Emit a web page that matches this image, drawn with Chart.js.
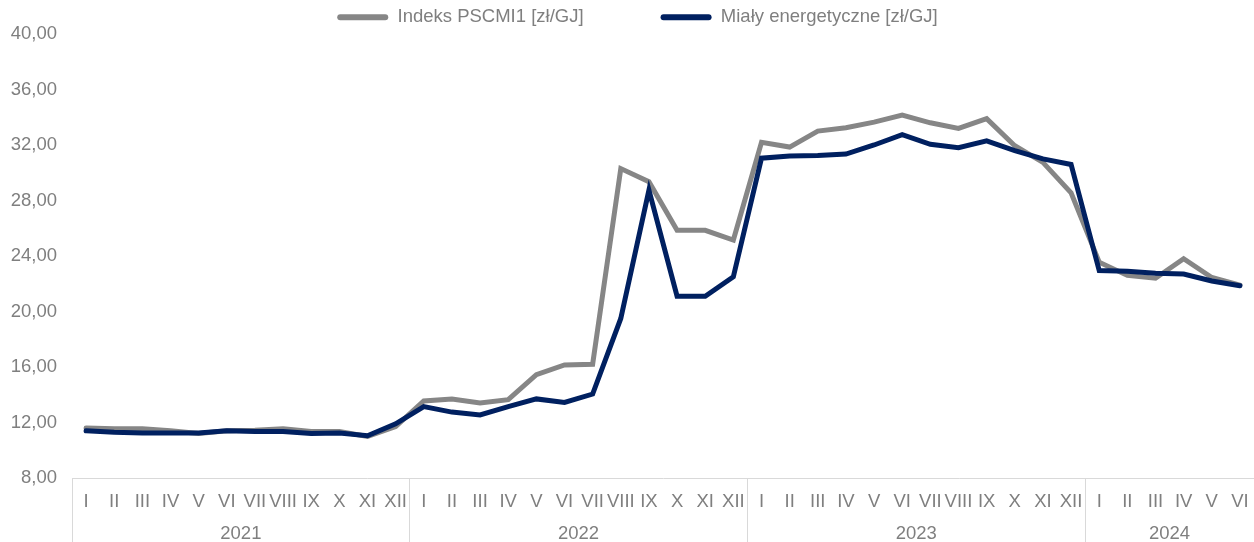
<!DOCTYPE html>
<html>
<head>
<meta charset="utf-8">
<script src="https://cdn.jsdelivr.net/npm/chart.js@4/dist/chart.umd.min.js"></script>
<style>
  html, body { margin: 0; padding: 0; background: #ffffff; }
  #wrap { position: relative; width: 1254px; height: 542px; }
</style>
</head>
<body>
<div id="wrap"><canvas id="c"></canvas></div>
<script>
// ---- data ----
const months = [
  'I','II','III','IV','V','VI','VII','VIII','IX','X','XI','XII',
  'I','II','III','IV','V','VI','VII','VIII','IX','X','XI','XII',
  'I','II','III','IV','V','VI','VII','VIII','IX','X','XI','XII',
  'I','II','III','IV','V','VI'
];
const yearLabels = ['2021', '2022', '2023', '2024'];
const yearCenters = [5.5, 17.5, 29.5, 38.5];
const yearStarts = [0, 12, 24, 36];

const seriesNames = ['Indeks PSCMI1 [zł/GJ]', 'Miały energetyczne [zł/GJ]'];
const pscmi = [
  11.6, 11.55, 11.55, 11.4, 11.2, 11.4, 11.45, 11.55, 11.35, 11.35, 11.0, 11.7,
  13.55, 13.7, 13.4, 13.65, 15.45, 16.15, 16.2, 30.3, 29.35, 25.85, 25.85, 25.15,
  32.2, 31.85, 33.0, 33.25, 33.65, 34.15, 33.6, 33.2, 33.9, 31.95, 30.75, 28.55,
  23.55, 22.6, 22.4, 23.8, 22.45, 21.9
];
const mialy = [
  11.4, 11.3, 11.25, 11.25, 11.25, 11.4, 11.35, 11.35, 11.2, 11.25, 11.05, 11.9,
  13.15, 12.75, 12.55, 13.15, 13.7, 13.45, 14.05, 19.5, 28.75, 21.1, 21.1, 22.5,
  31.05, 31.2, 31.25, 31.35, 32.0, 32.75, 32.05, 31.8, 32.3, 31.6, 31.0, 30.6,
  22.95, 22.9, 22.75, 22.7, 22.2, 21.85
];
const yTicks = { min: 8, max: 40, step: 4 };

// ---- styles ----
const GREY_LINE = '#868686';
const NAVY = '#002060';
const TEXT = '#7f7f7f';
const AXIS = '#d9d9d9';
const FONT = { family: "'Liberation Sans', Arial, sans-serif", size: 18.5 };

const LEG_PAD = 77;

// shifts the centred legend slightly to the right, as in the original
const legendShift = {
  id: 'legendShift',
  afterLayout(chart) { if (chart.legend) { chart.legend.left += 21; } }
};

new Chart(document.getElementById('c'), {
  type: 'line',
  data: {
    labels: months,
    datasets: [
      {
        label: seriesNames[0], data: pscmi,
        borderColor: GREY_LINE, backgroundColor: GREY_LINE,
        borderWidth: 5, pointRadius: 0, tension: 0,
        borderCapStyle: 'round', order: 1
      },
      {
        label: seriesNames[1], data: mialy,
        borderColor: NAVY, backgroundColor: NAVY,
        borderWidth: 5, pointRadius: 0, tension: 0,
        borderCapStyle: 'round', order: 0
      }
    ]
  },
  plugins: [legendShift],
  options: {
    responsive: true,
    maintainAspectRatio: false,
    animation: false,
    layout: { padding: { top: -69, left: 0, right: 0, bottom: 0 } },
    plugins: {
      tooltip: { enabled: false },
      legend: {
        position: 'top',
        align: 'center',
        maxHeight: 103,
        labels: {
          color: TEXT,
          font: FONT,
          boxWidth: 51,
          boxHeight: 6,
          useBorderRadius: true,
          borderRadius: 3,
          padding: LEG_PAD,
          sort: (a, b) => a.datasetIndex - b.datasetIndex,
          generateLabels: (chart) => chart.data.datasets.map((ds, i) => ({
            text: ds.label,
            fillStyle: ds.borderColor,
            strokeStyle: ds.borderColor,
            lineWidth: 0,
            fontColor: TEXT,
            hidden: false,
            datasetIndex: i,
            borderRadius: 3
          }))
        }
      }
    },
    scales: {
      x: {
        type: 'category',
        position: 'bottom',
        weight: 0,
        offset: true,
        grid: {
          display: true,
          offset: true,
          drawOnChartArea: false,
          drawTicks: true,
          tickLength: 64,
          lineWidth: 1,
          color: (ctx) => (yearStarts.includes(ctx.index) ? AXIS : 'rgba(0,0,0,0)')
        },
        border: { display: true, color: AXIS, width: 1 },
        ticks: {
          color: TEXT, font: FONT, autoSkip: false,
          maxRotation: 0, minRotation: 0, padding: -51.5
        },
        afterFit: (s) => { s.height = 34; }
      },
      x2: {
        type: 'linear',
        position: 'bottom',
        weight: 1,
        min: -0.5,
        max: 41.5,
        grid: { display: false, drawTicks: false },
        border: { display: false },
        afterBuildTicks: (s) => { s.ticks = yearCenters.map(v => ({ value: v })); },
        ticks: {
          color: TEXT, font: FONT, autoSkip: false, maxRotation: 0, padding: 11,
          callback: (v) => { const i = yearCenters.indexOf(v); return i >= 0 ? yearLabels[i] : ''; }
        },
        afterFit: (s) => { s.height = 30; }
      },
      y: {
        min: yTicks.min,
        max: yTicks.max,
        grid: { display: false, drawTicks: false },
        border: { display: false },
        ticks: {
          stepSize: yTicks.step,
          color: TEXT, font: FONT, padding: 15,
          callback: (v) => v.toFixed(2).replace('.', ',')
        },
        afterFit: (s) => { s.width = 72; }
      }
    }
  }
});
</script>
</body>
</html>
